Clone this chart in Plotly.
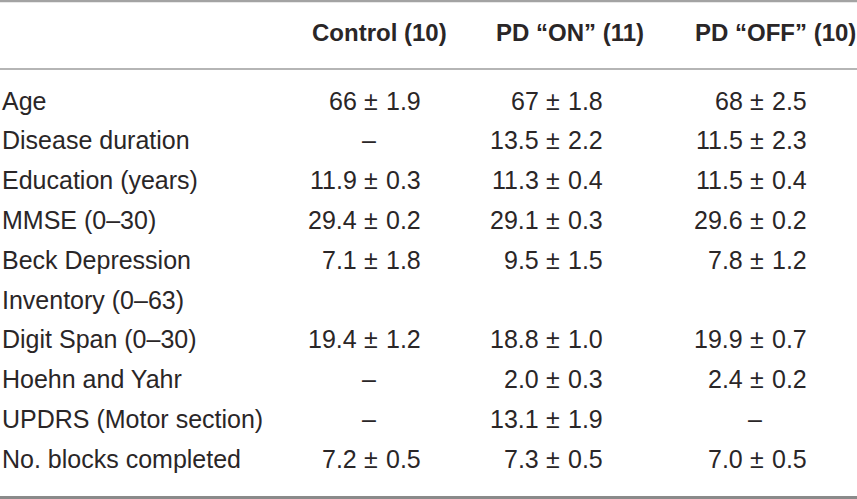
import plotly.graph_objects as go

# rows of the table; "|" marks where the label wraps onto a second line
measures = ["Age", "Disease duration", "Education (years)", "MMSE (0–30)",
            "Beck Depression|Inventory (0–63)", "Digit Span (0–30)",
            "Hoehn and Yahr", "UPDRS (Motor section)", "No. blocks completed"]
groups = ["Control (10)", "PD “ON” (11)", "PD “OFF” (10)"]

control = ["66 ± 1.9", "–", "11.9 ± 0.3", "29.4 ± 0.2", "7.1 ± 1.8",
           "19.4 ± 1.2", "–", "–", "7.2 ± 0.5"]
pd_on = ["67 ± 1.8", "13.5 ± 2.2", "11.3 ± 0.4", "29.1 ± 0.3", "9.5 ± 1.5",
         "18.8 ± 1.0", "2.0 ± 0.3", "13.1 ± 1.9", "7.3 ± 0.5"]
pd_off = ["68 ± 2.5", "11.5 ± 2.3", "11.5 ± 0.4", "29.6 ± 0.2", "7.8 ± 1.2",
          "19.9 ± 0.7", "2.4 ± 0.2", "–", "7.0 ± 0.5"]
columns = [control, pd_on, pd_off]

W, H = 857, 499
FONT = "Liberation Sans, Arial, sans-serif"
TXT = "#2a2627"
SIZE = 25

pm_x = [371, 553, 757]      # where the ± signs line up
head_x = [379, 570, 775]
head_y = 32
y0, pitch = 100.5, 39.8

anns = []


def txt(x, y, s, anchor, size=SIZE):
    anns.append(dict(x=x, y=y, xref="x", yref="y", text=s, showarrow=False,
                     xanchor=anchor, yanchor="middle",
                     font=dict(family=FONT, size=size, color=TXT)))


for gx, g in zip(head_x, groups):
    txt(gx, head_y, "<b>%s</b>" % g, "center", size=24)

line = 0
for i, m in enumerate(measures):
    parts = m.split("|")
    y = y0 + pitch * line
    for k, p in enumerate(parts):
        txt(0, y0 + pitch * (line + k), p, "left")
    for cx, col in zip(pm_x, columns):
        v = col[i]
        if "±" in v:
            a, b = [s.strip() for s in v.split("±")]
            txt(cx - 12, y, a, "right")
            txt(cx, y, "±", "center")
            txt(cx + 13, y, b, "left")
        else:
            txt(cx - 2, y, v, "center")
    line += len(parts)

fig = go.Figure()
fig.add_trace(go.Scatter(x=[0, W], y=[0, H], mode="markers",
                         marker=dict(opacity=0), hoverinfo="skip"))

rules = [(1, 2.5, "#a3a3a3"), (69, 1.5, "#9c9c9c"), (497.5, 3, "#8a8a8a")]
for ry, w, c in rules:
    fig.add_shape(type="line", xref="paper", x0=0, x1=1, yref="y", y0=ry, y1=ry,
                  line=dict(color=c, width=w))

fig.update_layout(
    width=W, height=H,
    margin=dict(l=0, r=0, t=0, b=0),
    paper_bgcolor="white", plot_bgcolor="white",
    showlegend=False,
    annotations=anns,
    xaxis=dict(range=[0, W], visible=False, fixedrange=True),
    yaxis=dict(range=[H, 0], visible=False, fixedrange=True),
)

fig.write_html("out.html", config={"displayModeBar": False},
               post_script="document.body.style.margin='0px';")
